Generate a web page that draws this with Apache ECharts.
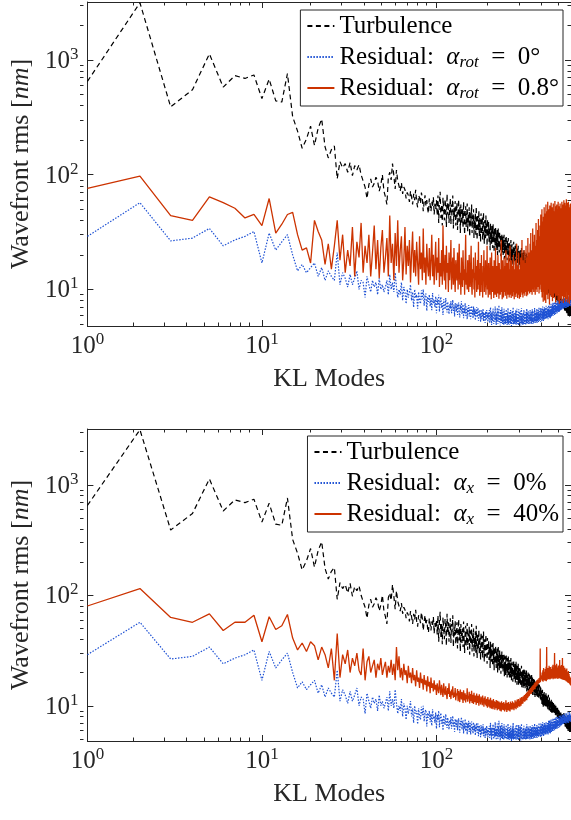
<!DOCTYPE html>
<html><head><meta charset="utf-8">
<script src="https://cdn.jsdelivr.net/npm/echarts@6/dist/echarts.min.js"></script>
<style>html,body{margin:0;padding:0;background:#fff}#c{width:571px;height:820px}</style>
</head><body><div id="c"></div><script>
// KL mode numbers are 1..N (index + 1)
const turbulence = [
650,3150,390,550,1130,580,730,690,740,460,
680,440,430,760,320,240,170,205,265,180,
255,305,175,140,165,178,92,130,115,125,
105,128,98,120,110,122,100,88,78,62,
82,92,78,84,95,88,72,82,100,72,
64,55,95,105,90,125,98,75,110,88,
80,72,85,68,78,74,62,70,66,58,
72,64,55,68,60,74,58,52,66,63,
56,70,62,48,58,66,54,60,50,46,
62,55,48,58,52,64,45,56,50,60,
44,66,38,58,71,42,55,36,63,49,
40,61,52,35,68,45,57,38,50,62,
37,55,47,66,34,51,43,59,36,48,
57,33,46,61,39,52,31,55,44,37,
50,34,58,41,30,47,53,35,43,56,
32,45,38,52,29,48,36,42,55,31,
44,37,50,28,41,34,47,30,53,36,
27,45,39,33,49,29,42,35,26,46,
38,30,43,27,36,47,32,25,40,34,
28,44,31,37,24,41,33,29,39,26,
35,30,22,38,27,33,25,36,29,23,
37,26,32,21,34,28,24,35,30,22,
31,25,33,20,29,34,23,27,21,32,
26,22,30,19.5,28,24,31,21,26,29,
20,27,23,30,18.5,25,22,28,19,26,
29,21,24,18,27,23,20,28,19,25,
22,17.5,26,20,24,18,27,21,17,23,
25,19,22,16.5,24,20,26,17.5,21,23,
18,24,16,21,19,25,17,22,15.5,20,
23,17,19,24,15.5,21,18,22,16,20,
17,22,15,19,21,16,23,14.5,18,20,
16,21,18,14.5,20,17,22,15,19,16.5,
21,14,18,16,20,15,17.5,21,13.5,18,
16,19,14,17.5,20,13.5,16,18,15,19.5,
14,17,19,13,16.5,15,18.5,13.5,17,15.5,
19,13,16,14.5,18,12.5,17,15,13.5,18,
14.5,16,12.5,17.5,14,15.5,12,16.5,14,13,
17,12.5,15,14,16.5,12,15.5,13.5,11.8,16,
13.5,15,12,14.5,16,11.5,14,13,15.5,12,
14,12.8,15,11.5,13.5,14.8,11.2,13,14.2,12,
13.1,10.4,12.2,11.0,14.0,10.2,11.9,12.8,9.8,11.5,
12.9,10.6,11.3,13.4,9.9,11.8,10.3,12.4,11.1,9.7,
12.6,10.9,10.1,13.0,11.4,9.6,11.7,12.3,9.9,10.8,
11.9,9.5,12.1,10.4,9.3,11.3,10.9,12.6,9.7,10.2,
11.5,9.1,10.7,11.9,9.4,10.1,11.2,9.0,10.6,9.8,
11.0,8.8,10.3,9.6,11.4,8.9,9.9,10.7,8.6,10.1,
9.4,10.9,8.7,9.8,10.3,8.5,9.2,10.6,8.9,9.6,
10.2,8.4,9.3,9.9,8.6,10.4,8.8,9.1,9.7,8.3,
9.5,8.7,10.0,8.2,9.0,9.4,8.1,9.8,8.6,8.9,
9.3,7.9,8.8,9.6,8.3,8.5,9.1,7.8,8.7,9.2,
8.0,8.9,7.7,8.4,9.0,7.6,8.6,8.1,7.5,8.8,
8.2,7.4,8.5,7.9,7.3,8.7,7.8,7.2,8.3,7.6,
7.1,8.1,7.5,7.0,8.4,7.3,7.7,6.9,7.9,7.2,
7.5,8.4,7.0,8.1,6.9,7.8,8.6,7.2,6.8,8.0,
7.4,6.6,8.3,7.1,7.7,6.5,8.2,7.0,6.7,7.9,
7.2,6.4,8.0,6.9,7.5,6.3,7.8,7.1,6.2,7.6,
6.9,7.7,6.1,7.3,6.6,8.1,6.0,7.0,7.4,6.2,
7.6,6.5,7.1,5.9,7.4,6.8,6.1,7.2,5.8,6.9,
7.3,6.0,6.7,7.5,5.9,6.5,7.1,5.7,6.8,6.4
];
const residualNominal = [
29,57,26.5,28,34,24,27,29,32,17,
31,22,26,30,20,14.5,16.5,14,15.5,17,
13,15.5,12,14.5,13,12,21,11,14,12.5,
10.5,13.5,11,12.5,14.5,10,12,11.5,8.5,13,
11,9.5,12,10.5,11.5,9,12.5,10,11,9.5,
10.5,12,9,13.5,10,11.5,9.5,14,10.5,8.5,
10,9,11.5,8,10.5,9.5,7.5,10,8.5,9.5,
11,8,9.5,7,10,8.5,9,6.8,9.5,8,
7.5,9.8,8.2,10,7.2,8.8,9.2,6.5,8.6,7.8,
9,7.1,8.4,6.6,9.3,7.6,8.1,7,8.7,6.2,
8.3,7.4,9,6.4,7.9,8.6,6.9,7.6,6,8.2,
7.3,6.7,8.4,7,6.3,7.8,8,6.1,7.4,6.8,
7.9,6.2,7.1,8.1,6.5,7.2,5.8,7.6,6.9,6.4,
7.5,6,7,7.7,6.3,5.7,7.3,6.6,7.9,6.1,
6.8,7.4,5.6,6.9,6.2,7.6,5.9,6.7,7.1,5.5,
6.9,6.3,7.3,5.8,6.6,7,5.5,6.4,7.2,6,
6.5,5.6,7.1,6.2,5.9,6.8,5.4,6.5,6.1,7,
5.7,6.4,6.9,5.3,6.2,6.6,5.8,6.1,5.2,6.7,
6,5.5,6.5,5.9,6.8,5.3,6.3,5.6,6.1,5.1,
6.4,5.8,5.4,6.6,5.7,6,5.2,6.3,5.5,5.9,
6.6,5.1,5.8,7.0,5.4,6.2,4.9,6.4,5.6,5.3,
6.8,5.5,5.0,6.3,5.9,5.2,7.1,5.4,5.8,4.9,
6.2,5.3,6.9,5.6,5.0,6.5,5.4,7.3,5.2,5.7,
6.0,4.85,6.6,5.3,5.9,5.1,7.0,5.5,5.0,6.4,
5.2,6.1,4.9,6.8,5.4,5.1,6.3,5.0,5.7,5.3,
6.7,5.1,5.6,4.9,6.2,5.2,6.9,5.0,5.5,5.8,
4.9,6.4,5.2,6.0,5.0,6.6,5.1,5.7,4.8,6.1,
5.3,6.5,5.0,5.6,7.0,4.95,5.8,6.2,5.1,5.6,
5.0,6.3,5.7,5.2,6.6,4.9,5.9,5.1,6.8,5.3,
5.6,5.0,6.2,5.5,4.85,6.7,5.2,5.8,5.0,6.4,
5.3,5.1,6.5,4.85,5.9,5.2,6.9,5.0,5.4,6.1,
5.5,5.2,4.9,6.3,5.8,5.1,6.6,5.0,5.5,6.0,
5.0,5.7,6.2,5.3,4.9,6.4,5.5,5.1,6.8,5.0,
5.3,6.1,5.1,5.7,6.5,5.0,5.5,6.3,5.1,5.6,
6.0,5.4,4.95,6.6,5.3,5.1,6.2,5.2,5.8,5.0,
6.4,5.3,5.1,6.7,5.2,5.6,5.0,6.5,5.4,5.7,
5.1,6.2,5.8,5.2,6.9,5.4,5.9,5.1,6.3,5.6,
5.3,6.5,5.2,6.0,5.6,6.8,5.1,5.7,6.4,5.3,
5.8,5.4,6.6,5.2,6.1,5.5,7.0,5.3,5.9,6.2,
5.4,6.5,5.6,6.0,5.2,6.9,5.7,5.5,6.6,5.3,
5.9,6.8,5.4,6.2,5.6,7.1,5.5,6.0,6.4,5.3,
6.7,5.7,6.1,5.4,7.0,5.8,6.3,5.5,6.9,5.9,
5.6,6.6,6.0,5.5,7.2,5.8,6.4,5.7,6.2,6.8,
5.6,6.3,7.0,5.9,6.1,5.5,6.7,6.0,7.3,5.8,
6.4,5.7,6.9,6.2,5.8,7.4,6.0,6.5,5.6,7.0,
6.1,6.7,5.9,7.5,6.3,5.8,6.8,6.2,7.1,5.9,
6.6,7.3,6.0,6.4,7.7,5.9,6.9,6.3,7.2,6.1,
6.8,6.2,7.6,6.4,6.0,7.0,6.5,7.8,6.2,6.7,
7.3,6.1,6.9,6.6,7.9,6.3,7.1,6.4,6.8,7.5,
6.2,7.0,6.7,8.0,6.4,6.9,7.4,6.3,7.2,6.6,
7.7,6.5,7.0,6.8,8.1,6.4,7.3,6.9,7.6,6.5,
7.1,8.2,6.7,7.0,7.5,6.6,7.9,6.9,7.3,6.8,
8.0,6.7,7.4,7.1,8.3,6.9,7.2,7.7,6.8,7.5,
8.1,7.0,7.3,6.8,8.4,7.2,7.6,7.0,7.9,6.9,
7.4,8.2,7.1,7.7,6.9,8.5,7.3,7.5,7.0,8.0,
7.2,7.8,6.9,8.6,7.4,7.1,8.1,7.3,7.9,7.0,
8.3,7.5,7.2,8.0,7.1,8.7,7.4,7.8,7.0,8.2,
7.6,7.3,8.4,7.1,7.9,7.5,8.8,7.2,7.7,8.1,
7.4,8.5,7.2,7.8,7.6,8.3,7.1,8.0,7.5,8.2
];
const residualRot = [
76,97,44,40,64,57,51,42,45,36,
62,31,37,45,47,30,22,23,17,40,
32,27,16.5,25,15,24,40,18,30,14,
22,16,35,13,26,19,38,14,24,17,
30,13,21,36,15,27,12.5,23,33,14,
19,28,13,44,17,25,12,31,16,40,
14,22,29,12,18,35,13.5,24,16,27,
11.5,20,32,14,22,13,26,17,11,29,
15,21,12,34,14,19,11,25,16,13,
23,12,18,30,13,20,11,17,26,12,
19,14,28,10.5,17,13,22,11,36,15,
12,20,10,24,14,17,9.5,21,12,16,
27,10,15,19,11,23,13,9.5,18,14,
12,21,10,16,25,11,14,9,19,13,
10.5,22,12,15,9,17,30,11,14,10,
18,12,9.5,20,13,10.5,16,24,11,9,
15,12.5,19,10,14,8.5,21,12,16,9.5,
13,18,10,26,11,15,8.8,17,12,9.5,
20,11,14,8.5,16,12,22,9.5,13,10.5,
18,9,14,11,24,10,12.5,8.5,17,11,
13,9,19,10.5,15,8.2,21,12,9.5,16,
11,14,8.4,18,10,12.5,9,23,10.5,13,
8.6,16,11,9.2,20,12,14,8.3,17,10,
12.5,9,15,11,27,9.5,13,8.2,18,10.5,
14,8.5,12,19,9.5,11,16,8.8,13,22,
10,12,8.3,17,11,14,9,20,10.5,12.5,
8.5,15,10,24,9,12,13.5,8.4,18,10.5,
11.5,16,8.7,13,9.5,20,10,12,8.2,15,
11,9,18,12.5,8.6,14,10.5,25,9.2,12,
16,8.4,11,13.5,9,21,10,12.5,8.3,15,
10.5,13,8.6,19,11,9.4,16,12,27,9,
11.5,14,8.5,18,10,13,9.2,22,11,15,
8.8,12.5,17,10,9.5,24,11.5,14,8.7,19,
10.5,13,9,28,11,16,9.6,21,12,10,
18,9.2,14,25,10.5,12,31,9.5,16,11,
13.5,22,9,19,12,34,10,15,11.5,26,
9.5,17,13,30,10.5,21,12,9,24,14,
11,38,10,18,13.5,27,9.5,16,12,33,
10.5,22,14,41,11,19,9.2,29,13,17,
10,36,12.5,24,15,45,11,20,9.5,31,
14,50,8.5,26,17,39,12,22,7.8,43,
15,28,9.5,52,13,33,8,24,18,46,
11.5,30,7.6,55,12,21,37,9,27,48,
13,34,16,58,8.2,25,42,10,31,12,
50,17,36,7.4,28,54,13,39,9,15,
46,11.5,32,57,8.6,24,44,12,35,19,
52,7.9,29,10,41,23,56,13,37,8.4,
48,12,27,45,9.2,33,59,11,38,21,
53,7.7,30,18,47,10.5,36,25,55,8.8,
40,16,50,12,28,44,8,58,11,35,
22,49,9.4,31,53,7.5,42,17,37,26,
56,8.3,45,20,33,51,12,40,7.9,47,
15,36,58,8.7,29,43,18,52,10,38,
25,55,7.6,46,21,34,60,9,41,27,
50,8.5,32,57,11,44,23,38,54,7.8,
29,48,13,35,61,9.6,42,26,53,8.2,
39,57,17,31,49,7.7,45,14,36,58,
20,43,8.9,55,13,34,50,7.5,40,24,
52,10,38,46,8.1,33,56,17,29,44
];
const residualX = [
80,115,63,57,68,48,57,57,66,38,
64,49,53,67,41,32,37,31,38,35,
26,34,29,22,33,17,45,18,29,24,
32,20,27,23,30,21,19,33,17,25,
28,20,23,26,18,24,21,27,19,22,
25,18,23,20,26,19,24,17,34,21,
28,18,22,17,24,19,21,16,23,18,
20,16,22,17,19,15,21,16.5,18,14.5,
20,16,17.5,14,19,15.5,17,13.5,18.5,15,
16.5,13,18,14.5,16,13.5,17,14,15.5,12.5,
16,14,13,17,14.5,12.5,15.5,13.5,12,16,
13.5,12.5,15,13,11.5,14.5,12.8,16,12,13.5,
11.5,14,12.5,15,11.8,13.2,12,14.5,11.2,13,
12.4,14.2,11,13.6,12.2,10.8,14,12.6,11.4,13.3,
11.9,10.6,13.8,12,11.2,13,10.7,12.5,11.5,14.4,
10.9,12.2,11.6,13.4,10.5,12.8,11,12,13.7,10.6,
11.8,12.6,10.4,13.1,11.3,10.8,12.4,11.6,10.2,12.9,
11.1,10.6,12.3,11.4,10,12.7,10.9,11.5,10.3,12.1,
10.8,11.9,10.1,12.4,10.6,11.2,9.8,11.8,10.5,12.2,
10.2,11.3,9.9,11.6,10.7,9.6,12,10.4,11.1,9.8,
11.4,10.1,9.5,11.8,10.3,10.9,9.4,11.2,10,10.6,
9.3,11.5,10.2,9.7,11,9.2,10.8,10.1,9.5,11.3,
9.9,10.4,9.1,11.1,9.6,10.2,9.3,10.9,9.8,10.5,
9,10.7,9.7,10.1,8.9,11,9.5,10.3,9.2,10.6,
9.8,9.1,10.8,9.4,10.2,8.9,10.5,9.7,9.2,11.2,
9.5,10.3,8.8,10.6,9.4,9.9,9.1,10.8,9.6,10.1,
9,10.4,9.7,8.9,10.9,9.5,10.2,9.3,10.6,9.8,
9.2,11,9.6,10.1,9.4,10.7,9.9,9.1,10.5,10.2,
9.7,11.2,9.5,10.4,10,9.3,10.9,10.3,9.8,11.4,
10.1,9.6,10.8,10.4,11.5,9.9,10.6,10.2,11.1,9.8,
10.7,11.8,10.3,10.9,10,11.3,10.6,12,10.4,11,
10.8,11.6,10.5,12.2,11,10.7,11.9,11.3,12.5,10.9,
11.5,12.1,11.1,12.8,11.4,12.3,11.7,13.1,11.2,12.6,
12,13.3,11.8,12.7,12.4,13.6,12.1,12.9,13.9,12.3,
13.2,12.6,14.1,12.9,13.5,14.4,13,13.8,12.8,14.7,
13.4,14.2,15,13.7,14.5,13.3,15.3,14,14.8,13.9,
15.5,14.3,15.1,16,14.6,15.4,14.1,16.3,15,15.7,
14.8,16.5,15.3,16,15.6,17,15.2,16.4,15.9,17.3,
15.7,16.8,16.2,17.5,15.9,16.6,17.8,16.1,17.1,16.5,
18,16.9,33,16.3,18.3,17.2,16.7,18.6,17.5,17,
18.9,17.3,20,16.8,19.2,17.9,21,16.5,19.6,18.2,
22,17,19.4,18.6,20,17.6,20.3,18.9,16.9,21.5,
19,17.4,20.8,18.1,22.6,16.7,19.9,34,21.2,17.8,
20,18.7,20.5,17.2,22,19.3,18,21.4,17.5,20.7,
19.1,23,17.9,20.2,18.5,21.8,17.3,19.7,22.4,18.2,
20.9,17.6,19.4,20,18.8,21.5,17.7,20.1,18.6,22.7,
17.9,19.8,21.1,18.3,23.5,17.4,20.4,19,22,18.1,
20.6,17.8,19,18.9,30,19.3,17.6,22.9,18.7,20.2,
19.5,23.3,18,21,17.7,20.8,19.1,24,18.4,21.3,
17.9,20.5,22.2,18.6,19.8,17.5,21.9,19.2,23.1,18.3,
20.7,18.8,22.5,17.8,19.6,21.4,18.1,26,19.4,20.1,
18.5,22.8,17.6,20.3,19,21.7,17.9,20.9,18.7,23.4,
19.2,17.4,21.2,18.9,20.6,17.7,27,18.4,19.9,17.2,
21.6,18.6,20,17.5,23,18.2,19.5,17.1,21,18.8,
17.7,20.4,18.3,22.1,17,19.3,17.8,20.8,16.9,18.6,
21.3,17.4,19,16.7,20.2,18.1,17.3,21.7,16.6,19.1,
17.8,20,16.4,18.7,17.1,19.6,16.2,18.3,17.5,20.6,
16.5,18.9,17,16.1,19.4,16.8,17.6,15.9,18.5,16.6,
17.2,15.7,18.1,16.3,15.5,17.8,16,15.3,17,15.8
];
const xMajorTicks = [1, 10, 100];
const xMinorTicks = [2,3,4,5,6,7,8,9,20,30,40,50,60,70,80,90,200,300,400,500];
const yMajorTicks = [10, 100, 1000];
const yMinorTicks = [5,6,7,8,9,20,30,40,50,60,70,80,90,200,300,400,500,600,700,800,900,2000,3000];
const xRange = [1, 590];
const yRange = [4.8, 3200];
const xName = 'KL Modes';
const yName = 'Wavefront rms [{i|nm}]';
const legendTop = ['Turbulence', 'Residual:  {a|α}{sub|rot}  =  0°', 'Residual:  {a|α}{sub|rot}  =  0.8°'];
const legendBottom = ['Turbulence', 'Residual:  {a|α}{sub|x}  =  0%', 'Residual:  {a|α}{sub|x}  =  40%'];

const modes = turbulence.map((_, i) => i + 1);
const pairs = arr => arr.map((v, i) => [modes[i], v]);

const SERIF = '"Liberation Serif", "DejaVu Serif", serif';
const INK = '#262626';
const supRich = {
  b: {fontFamily: SERIF, fontSize: 25, color: INK, lineHeight: 28, verticalAlign: 'bottom'},
  s: {fontFamily: SERIF, fontSize: 17, color: INK, lineHeight: 16, verticalAlign: 'top'}
};
const powFmt = v => '{b|10}{s|' + Math.round(Math.log10(v)) + '}';

const grids = [
  {left: 80, top: 2, width: 492, height: 324},
  {left: 80, top: 2, width: 492, height: 324},
  {left: 80, top: 429, width: 492, height: 312},
  {left: 80, top: 429, width: 492, height: 312}
];
const xAxes = [], yAxes = [];
grids.forEach((g, gi) => {
  const major = gi % 2 === 0;
  ['bottom', 'top'].forEach(pos => {
    const main = major && pos === 'bottom';
    xAxes.push({
      type: 'log', logBase: 10, gridIndex: gi, position: pos, min: xRange[0], max: xRange[1],
      axisLine: {show: major, onZero: false, lineStyle: {color: INK, width: 1}},
      axisTick: {show: true, inside: true, length: major ? 6 : 3.5,
        customValues: major ? xMajorTicks : xMinorTicks, lineStyle: {color: INK, width: 1}},
      axisLabel: {show: main, customValues: xMajorTicks, formatter: powFmt, rich: supRich, margin: 5},
      splitLine: {show: false},
      name: main ? xName : '', nameLocation: 'middle', nameGap: 40,
      nameTextStyle: {fontFamily: SERIF, fontSize: 26, color: INK}
    });
  });
  ['left', 'right'].forEach(pos => {
    const main = major && pos === 'left';
    yAxes.push({
      type: 'log', logBase: 10, gridIndex: gi, position: pos, min: yRange[0], max: yRange[1],
      axisLine: {show: major, onZero: false, lineStyle: {color: INK, width: 1}},
      axisTick: {show: true, inside: true, length: major ? 6 : 3.5,
        customValues: major ? yMajorTicks : yMinorTicks, lineStyle: {color: INK, width: 1}},
      axisLabel: {show: main, customValues: yMajorTicks, formatter: powFmt, rich: supRich, margin: 9},
      splitLine: {show: false},
      name: main ? yName : '', nameLocation: 'middle', nameGap: 47, nameRotate: 90,
      nameTextStyle: {fontFamily: SERIF, fontSize: 26, color: INK,
        rich: {i: {fontFamily: SERIF, fontSize: 26, fontStyle: 'italic', color: INK}}}
    });
  });
});

const RED = '#cc3300', BLUE = '#1f52d4', BLACK = '#000000';
function panel(axisIdx, red, names) {
  return [
    {name: names[0], type: 'line', xAxisIndex: axisIdx, yAxisIndex: axisIdx, data: pairs(turbulence),
      showSymbol: false, symbol: 'none', lineStyle: {color: BLACK, width: 1.2, type: [5, 3.5]}, itemStyle: {color: BLACK}, z: 2},
    {name: names[1], type: 'line', xAxisIndex: axisIdx, yAxisIndex: axisIdx, data: pairs(residualNominal),
      showSymbol: false, symbol: 'none', lineStyle: {color: BLUE, width: 1.2, type: [1.5, 1.5]}, itemStyle: {color: BLUE}, z: 3},
    {name: names[2], type: 'line', xAxisIndex: axisIdx, yAxisIndex: axisIdx, data: pairs(red),
      showSymbol: false, symbol: 'none', lineStyle: {color: RED, width: 1.3}, itemStyle: {color: RED}, z: 4}
  ];
}
const topNames = ['t_turb', 't_nom', 't_res'];
const botNames = ['b_turb', 'b_nom', 'b_res'];
const labelMap = {};
topNames.forEach((n, i) => labelMap[n] = legendTop[i]);
botNames.forEach((n, i) => labelMap[n] = legendBottom[i]);

const legendRich = {
  a: {fontFamily: SERIF, fontSize: 25, fontStyle: 'italic', color: '#000', lineHeight: 28},
  sub: {fontFamily: SERIF, fontSize: 17, fontStyle: 'italic', color: '#000', lineHeight: 12, verticalAlign: 'bottom'}
};
function legend(names, top) {
  return {
    data: names, orient: 'vertical', right: 8, top: top, selectedMode: false,
    itemWidth: 27, itemHeight: 12, itemGap: 3, padding: [2, 4, 4, 6],
    backgroundColor: '#fff', borderColor: INK, borderWidth: 1, borderRadius: 0,
    itemStyle: {opacity: 0, borderWidth: 0},
    formatter: n => labelMap[n],
    textStyle: {fontFamily: SERIF, fontSize: 25, color: '#000', lineHeight: 28, rich: legendRich}
  };
}

const chart = echarts.init(document.getElementById('c'), null, {renderer: 'canvas'});
chart.setOption({
  animation: false,
  backgroundColor: '#fff',
  grid: grids,
  xAxis: xAxes,
  yAxis: yAxes,
  legend: [legend(topNames, 10), legend(botNames, 436)],
  series: [...panel(0, residualRot, topNames), ...panel(4, residualX, botNames)]
});
</script></body></html>
